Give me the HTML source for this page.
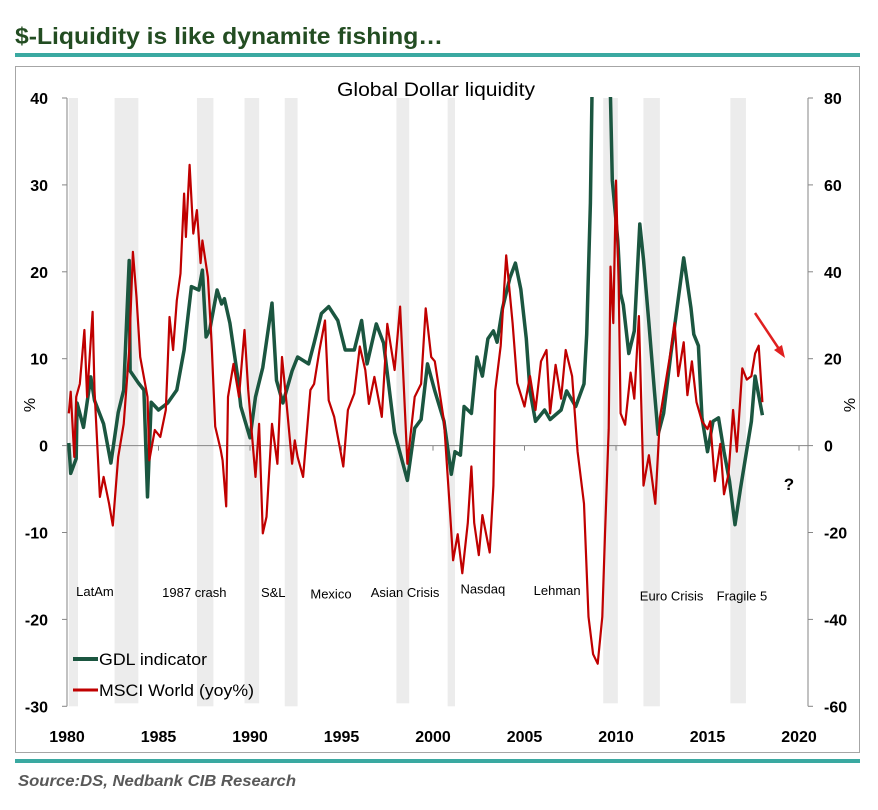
<!DOCTYPE html>
<html><head><meta charset="utf-8"><style>
body{margin:0;background:#fff;width:878px;height:805px;overflow:hidden;font-family:"Liberation Sans",sans-serif}
svg text{font-family:"Liberation Sans",sans-serif}
</style></head><body>
<svg id="c" width="878" height="805" viewBox="0 0 878 805">
<defs><clipPath id="plotclip"><rect x="60" y="97" width="760" height="620"/></clipPath></defs>
<text x="15" y="44" font-size="23" font-weight="bold" fill="#234d22" textLength="428" lengthAdjust="spacingAndGlyphs">$-Liquidity is like dynamite fishing…</text>
<rect x="15" y="53" width="845" height="4" fill="#3aa9a1"/>
<rect x="15.5" y="66.5" width="844" height="686" fill="none" stroke="#a6a6a6"/>
<rect x="15" y="759" width="845" height="4" fill="#3aa9a1"/>
<text x="18" y="786" font-size="16" font-weight="bold" font-style="italic" fill="#595959" textLength="278" lengthAdjust="spacingAndGlyphs">Source:DS, Nedbank CIB Research</text>
<text x="436" y="96" font-size="19" text-anchor="middle" fill="#000" textLength="198" lengthAdjust="spacingAndGlyphs">Global Dollar liquidity</text>
<g id="shades"></g><g id="axes"></g><g id="series" clip-path="url(#plotclip)"></g><g id="labels"></g>
<g>
<line x1="73" y1="659" x2="98" y2="659" stroke="#1b5640" stroke-width="4"/>
<text x="99" y="665" font-size="17" fill="#000" textLength="108" lengthAdjust="spacingAndGlyphs">GDL indicator</text>
<line x1="73" y1="690" x2="98" y2="690" stroke="#c00000" stroke-width="3"/>
<text x="99" y="696" font-size="17" fill="#000" textLength="155" lengthAdjust="spacingAndGlyphs">MSCI World (yoy%)</text>
</g>
<line x1="755" y1="313" x2="781" y2="352" stroke="#e02020" stroke-width="2.5"/>
<polygon points="785,358 774,350 782,345" fill="#e02020"/>
<text x="789" y="490" font-size="17" font-weight="bold" text-anchor="middle">?</text>
<text x="30" y="410" font-size="16" text-anchor="middle" transform="rotate(-90 30 405)">%</text>
<text x="850" y="410" font-size="16" text-anchor="middle" transform="rotate(-90 850 405)">%</text>
</svg>
<script>
const leftTicks=[40,30,20,10,0,-10,-20,-30];
const rightTicks=[80,60,40,20,0,-20,-40,-60];
const xTicks=[1980,1985,1990,1995,2000,2005,2010,2015,2020];
const shadeStart=[1980.1,1982.6,1987.1,1989.7,1991.9,1998.0,2000.8,2009.3,2011.5,2016.25];
const shadeEnd=[1980.6,1983.9,1988.0,1990.5,1992.6,1998.7,2001.2,2010.1,2012.4,2017.1];
const eventNames=["LatAm","1987 crash","S&L","Mexico","Asian Crisis","Nasdaq","Lehman","Euro Crisis","Fragile 5"];
const eventYears=[1980.5,1985.2,1990.6,1993.3,1996.6,2001.5,2005.5,2011.3,2015.5];
const eventValues=[-17.3,-17.4,-17.4,-17.6,-17.4,-17.0,-17.2,-17.8,-17.8];
const gdlYears=[1980.1,1980.2,1980.5,1980.55,1980.9,1981.3,1981.5,1982.0,1982.4,1982.8,1983.1,1983.4,1983.45,1983.9,1984.2,1984.4,1984.6,1985.0,1985.5,1986.0,1986.4,1986.8,1987.2,1987.4,1987.6,1987.8,1988.2,1988.45,1988.6,1988.9,1989.3,1989.5,1990.0,1990.3,1990.7,1991.2,1991.45,1991.8,1992.3,1992.6,1993.2,1993.5,1993.9,1994.3,1994.8,1995.2,1995.7,1996.1,1996.4,1996.9,1997.3,1997.9,1998.6,1999.0,1999.35,1999.7,2000.1,2000.6,2001.0,2001.2,2001.5,2001.7,2002.1,2002.4,2002.7,2003.0,2003.3,2003.5,2003.8,2004.2,2004.5,2004.8,2005.1,2005.3,2005.6,2006.1,2006.4,2007.0,2007.3,2007.8,2008.25,2008.4,2008.6,2008.7,2009.0,2009.4,2009.7,2009.8,2010.1,2010.25,2010.4,2010.7,2011.0,2011.3,2011.5,2011.8,2012.1,2012.3,2012.6,2013.0,2013.25,2013.7,2014.1,2014.25,2014.5,2014.7,2015.0,2015.3,2015.6,2015.9,2016.2,2016.5,2016.8,2017.1,2017.4,2017.6,2018.0];
const gdlValues=[0.3,-3.2,-1.5,4.9,2.1,7.9,5.2,2.5,-2,3.8,6.4,21.3,8.6,7.2,6.4,-5.9,5,4.1,4.9,6.4,11,18.3,17.9,20.2,12.5,13.3,17.9,16.3,16.9,14.1,8.3,4.5,0.9,5.6,9,16.4,7.5,4.9,8.6,10.2,9.4,11.8,15.2,16,14.4,11,11,14.4,9.4,14,11.8,1.5,-4,2,3,9.4,6.3,2.8,-3.3,-0.7,-1.1,4.5,3.7,10.2,8,12.3,13.2,11.9,15.8,19.3,21,18,12.3,6.3,2.8,4.1,3,4.1,6.3,4.5,7.1,12.8,27.9,42,55,52,40,30.5,23.6,17.5,16.2,10.6,13.2,25.5,21.4,14.1,6.3,1.3,3.7,10.6,14.5,21.6,15.8,12.8,11.5,3.2,-0.7,2.8,3.2,-0.7,-4.1,-9.1,-5,-1.1,2.8,8,3.5];
const msciYears=[1980.1,1980.2,1980.4,1980.5,1980.7,1980.95,1981.1,1981.4,1981.5,1981.8,1982.0,1982.3,1982.5,1982.8,1983.1,1983.4,1983.6,1983.8,1984.0,1984.4,1984.5,1984.8,1985.1,1985.4,1985.5,1985.6,1985.8,1986.0,1986.2,1986.4,1986.5,1986.7,1986.9,1987.1,1987.3,1987.4,1987.7,1987.9,1988.1,1988.4,1988.5,1988.7,1988.8,1989.1,1989.4,1989.7,1989.9,1990.3,1990.5,1990.7,1990.9,1991.2,1991.5,1991.75,1992.0,1992.3,1992.45,1992.6,1992.9,1993.3,1993.5,1993.8,1994.1,1994.3,1994.6,1995.1,1995.35,1995.7,1996.0,1996.3,1996.5,1996.8,1997.2,1997.5,1997.9,1998.2,1998.6,1999.0,1999.35,1999.6,1999.9,2000.1,2000.35,2000.6,2000.9,2001.1,2001.35,2001.6,2001.9,2002.1,2002.25,2002.5,2002.7,2003.1,2003.3,2003.4,2003.7,2004.0,2004.35,2004.6,2005.0,2005.3,2005.6,2005.9,2006.2,2006.4,2006.7,2007.0,2007.25,2007.6,2007.9,2008.25,2008.5,2008.75,2009.0,2009.25,2009.4,2009.6,2009.7,2009.85,2010.0,2010.15,2010.25,2010.5,2010.8,2011.0,2011.25,2011.5,2011.8,2012.15,2012.4,2012.7,2013.0,2013.2,2013.4,2013.7,2013.9,2014.15,2014.4,2014.7,2015.0,2015.15,2015.4,2015.7,2015.9,2016.15,2016.4,2016.6,2016.9,2017.15,2017.4,2017.6,2017.8,2018.0];
const msciValues=[7.4,12.4,-2.6,11.2,14.2,26.6,11.2,30.8,12.8,-11.8,-7.2,-13.4,-18.4,-2.6,5,22,44.6,34.2,20.4,11.2,-3.4,3.6,2,8.2,18.8,29.6,22,33.4,39.6,58,48,64.6,48.8,54.2,42,47.2,38.8,23.6,4.4,-1,-3.4,-14,11.2,18.8,11.2,26.6,12.8,-7.2,5,-20.2,-16.4,5,-4.2,20.4,9.6,-4.2,1.2,-2.6,-7.2,12.8,14.2,22,28.8,10.4,6.6,-4.8,8.2,12,22.8,17.4,9.6,15.8,6.6,28,17.4,32,-4.2,11.2,14.2,31.6,20.4,19.4,12.6,5.6,-13.4,-26.4,-20.4,-29.4,-17.8,-4.8,-17.8,-25.2,-16,-24.6,-9.2,12.6,23,43.8,28.2,14.4,9,16,8.2,19.4,22,7.4,18.6,10.8,22,16,-1.4,-13.4,-39.4,-48,-50.2,-39.4,-20.4,3.8,41.2,28.2,61,36.8,7.4,4.8,16.8,10.8,29.8,-9.2,-2.2,-13.4,6.4,14.2,22,28.2,16,23.8,11.6,19.4,10,5.6,3.8,5.6,-8.2,0.4,-11.2,-6.6,8.2,-1.4,17.8,15.2,16,21.2,23,10];
const NS="http://www.w3.org/2000/svg";
const X0=67,X1=799,Y0=445.6,PX=8.69;
const xs=y=>X0+(y-1980)*(X1-X0)/40;
const yl=v=>Y0-v*PX;
const yr=v=>Y0-v/2*PX;
function mk(tag,parent,attrs){const e=document.createElementNS(NS,tag);for(const k in attrs)e.setAttribute(k,attrs[k]);parent.appendChild(e);return e;}
const shades=document.getElementById('shades'),axes=document.getElementById('axes'),series=document.getElementById('series'),labels=document.getElementById('labels');
shadeStart.forEach((s,i)=>{const r=mk('rect',shades,{x:xs(s),y:yl(40),width:xs(shadeEnd[i])-xs(s),height:yl(-30)-yl(40)+(i%2?-3:0),fill:'#ececec'});

});
let a=mk('line',axes,{x1:X0,y1:yl(40),x2:X0,y2:yl(-30),stroke:'#868686'});


a=mk('line',axes,{x1:808,y1:yr(80),x2:808,y2:yr(-60),stroke:'#868686'});


a=mk('line',axes,{x1:X0,y1:yl(0),x2:808,y2:yl(0),stroke:'#868686'});


leftTicks.forEach(v=>{mk('line',axes,{x1:X0-5,y1:yl(v),x2:X0,y2:yl(v),stroke:'#868686'});
const t=mk('text',axes,{x:48,y:yl(v)+6,'font-size':16,'font-weight':'bold','text-anchor':'end'});t.textContent=v;

});
rightTicks.forEach(v=>{mk('line',axes,{x1:808,y1:yr(v),x2:813,y2:yr(v),stroke:'#868686'});
const t=mk('text',axes,{x:824,y:yr(v)+6,'font-size':16,'font-weight':'bold'});t.textContent=v;

});
xTicks.forEach(y=>{mk('line',axes,{x1:xs(y),y1:yl(0),x2:xs(y),y2:yl(0)+5,stroke:'#868686'});
const t=mk('text',axes,{x:xs(y),y:742,'font-size':16,'font-weight':'bold','text-anchor':'middle'});t.textContent=y;

});
function pts(ys,vs,f){return ys.map((y,i)=>xs(y).toFixed(1)+','+f(vs[i]).toFixed(1)).join(' ');}
let p=mk('polyline',series,{points:pts(gdlYears,gdlValues,yl),fill:'none',stroke:'#1b5640','stroke-width':3.5,'stroke-linejoin':'round'});


p=mk('polyline',series,{points:pts(msciYears,msciValues,yr),fill:'none',stroke:'#c00000','stroke-width':2.2,'stroke-linejoin':'round'});


eventNames.forEach((n,i)=>{const t=mk('text',labels,{x:xs(eventYears[i]),y:yl(eventValues[i]),'font-size':13});t.textContent=n;

});
</script>
</body></html>
